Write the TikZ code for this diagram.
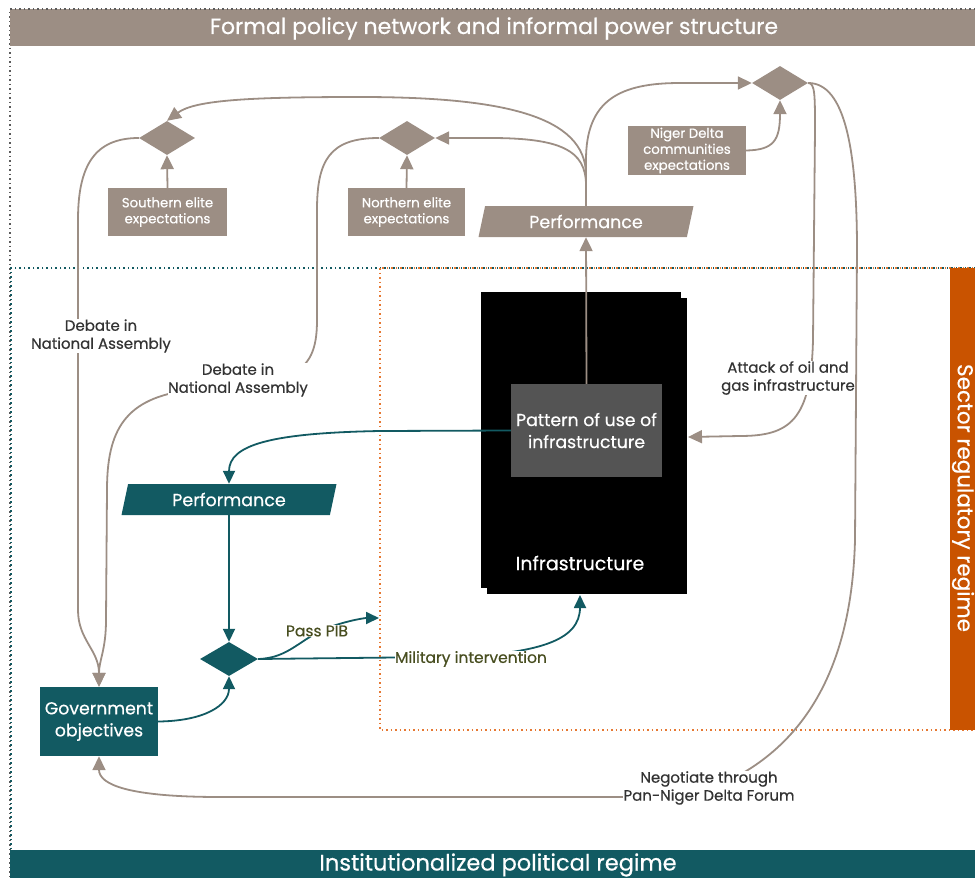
\documentclass[tikz,border=0pt]{standalone}
\usepackage{fontspec}
\setmainfont{Poppins}[FakeBold=0.5]
\usetikzlibrary{shapes.geometric,arrows.meta}
\definecolor{taupe}{RGB}{156,142,132}
\definecolor{tealc}{RGB}{18,90,98}
\definecolor{orng}{RGB}{201,83,0}
\definecolor{pattc}{RGB}{84,84,84}
\definecolor{lblc}{RGB}{51,51,51}
\definecolor{olivec}{RGB}{72,78,32}
\definecolor{dotgray}{RGB}{90,90,90}
\definecolor{dotorange}{RGB}{230,120,50}
\begin{document}
\begin{tikzpicture}[x=1pt,y=-1pt,
  gbox/.style={fill=taupe,text=white,inner sep=0pt,align=center,font=\fontsize{13.3}{16}\selectfont},
  gdia/.style={diamond,fill=taupe,inner sep=0pt,minimum width=56pt,minimum height=34pt,shape aspect=1.65},
  tdia/.style={diamond,fill=tealc,inner sep=0pt,minimum width=58pt,minimum height=34pt,shape aspect=1.7},
  para/.style={trapezium,trapezium left angle=64,trapezium right angle=116,trapezium stretches body,
    inner sep=0pt,minimum width=215pt,minimum height=31pt,text=white,font=\fontsize{17.5}{19}\selectfont},
  garr/.style={draw=taupe,line width=1.8pt,-{Triangle[length=14pt,width=13pt]}},
  tarr/.style={draw=tealc,line width=1.8pt,-{Triangle[length=13pt,width=12pt]}},
  glbl/.style={fill=white,text=lblc,align=center,inner sep=0.5pt,font=\fontsize{15}{18}\selectfont},
  tlbl/.style={fill=white,text=olivec,align=center,inner sep=0.5pt,font=\fontsize{15.5}{17}\selectfont},
  dotline/.style={line width=1.5pt,dash pattern=on 1.5pt off 3pt},
  banner/.style={text=white,anchor=base}
]
\useasboundingbox (0,0) rectangle (975,878);

% frames
\draw[dotline,draw=dotgray] (975,9) -- (10,9) -- (10,878);
\draw[dotline,draw=tealc] (975,268) -- (11,268) -- (11,878);
\draw[dotline,draw=dotorange] (380,268) rectangle (975,730);

% banners
\fill[taupe] (10,9) rectangle (975,46);
\draw[dotline,draw=dotgray] (975,9) -- (10,9);
\node[banner,font=\fontsize{22}{24}\selectfont] (topban) at (494,34) {Formal policy network and informal power structure};
\fill[tealc] (10,850) rectangle (975,878);
\node[banner,font=\fontsize{22.5}{25}\selectfont] (botban) at (498,870.5) {Institutionalized political regime};
\fill[orng] (950,268) rectangle (980,730);
\node[text=white,rotate=-90,inner sep=0pt,font=\fontsize{21.5}{24}\selectfont] (sectorlbl) at (963,498) {Sector regulatory regime};

% infrastructure
\node[fill=black,minimum width=200pt,minimum height=296pt,inner sep=0pt] (infrash) at (587,446) {};
\node[fill=black,minimum width=200pt,minimum height=296pt,inner sep=0pt] (infra) at (581,440) {};
\node[text=white,font=\fontsize{19}{21}\selectfont] (infratxt) at (580,563) {Infrastructure};
\node[fill=pattc,minimum width=151pt,minimum height=93pt,inner sep=0pt,text=white,align=center,
  font=\fontsize{17.3}{22}\selectfont] (patt) at (586.5,430.5) {Pattern of use of\\infrastructure};
\coordinate (infratip) at (580,595);
\coordinate (attacktip) at (688,437);
\coordinate (pibtip) at (379,618);

% gray nodes
\node[gdia] (sd) at (167,138) {};
\node[gdia] (nd) at (407,138) {};
\node[gdia] (ed) at (780,83) {};
\node[gbox,minimum width=119pt,minimum height=48pt] (sbox) at (167.5,212) {Southern elite\\expectations};
\node[gbox,minimum width=117pt,minimum height=48pt] (nbox) at (406.5,212) {Northern elite\\expectations};
\node[gbox,minimum width=118pt,minimum height=49pt] (dbox) at (687,150.5) {Niger Delta\\communities\\expectations};
\node[para,fill=taupe] (gperf) at (586,221.5) {Performance};

% teal nodes
\node[para,fill=tealc] (tperf) at (229,499.5) {Performance};
\node[tdia] (td) at (229,659) {};
\node[fill=tealc,minimum width=118pt,minimum height=69pt,inner sep=0pt,text=white,align=center,
  font=\fontsize{17.3}{22}\selectfont] (gov) at (99,721.5) {Government\\objectives};

% gray connectors
\draw[garr] (sbox.north) -- (sd.south);
\draw[garr] (nbox.north) -- (nd.south);
\draw[garr] (dbox.east) .. controls (774,150) and (780,140) .. (ed.south);
\draw[garr] (patt.north) -- (gperf.south);
\draw[garr] (gperf.north) -- (586,160) .. controls (586,100) and (620,83) .. (680,83) -- (ed.west);
\draw[garr] (gperf.north) -- (586,185) .. controls (586,150) and (560,138) .. (490,138) -- (nd.east);
\draw[garr] (gperf.north) -- (586,175) .. controls (586,115) and (500,97) .. (360,97) .. controls (250,97) and (195,100) .. (sd.north);
\draw[garr] (sd.west) .. controls (95,138) and (78,165) .. (78,220) -- (78,610) .. controls (78,640) and (99,650) .. (gov.north);
\draw[garr] (nd.west) .. controls (330,138) and (317,160) .. (317,210) -- (317,320) .. controls (317,350) and (310,365) .. (290,375) -- (190,390) .. controls (125,398) and (107,430) .. (107,490) -- (106,620) .. controls (106,650) and (99,660) .. (gov.north);
\draw[garr] (ed.east) .. controls (815,83) and (815,95) .. (815,130) -- (813,340) .. controls (811,420) and (790,436) .. (740,436) -- (attacktip);
\draw[garr] (ed.east) .. controls (845,83) and (857,150) .. (857,250) -- (855,540) .. controls (852,660) and (810,740) .. (730,780) -- (640,797) -- (220,797) .. controls (130,797) and (99,785) .. (gov.south);

% teal connectors
\draw[tarr] (patt.west) -- (380,431) .. controls (270,433) and (229,445) .. (tperf.north);
\draw[tarr] (tperf.south) -- (td.north);
\draw[tarr] (gov.east) .. controls (205,721) and (229,705) .. (td.south);
\draw[tarr] (td.east) .. controls (290,658) and (300,638) .. (330,627) .. controls (350,620) and (365,618) .. (pibtip);
\draw[tarr] (td.east) -- (440,657) .. controls (540,655) and (580,640) .. (infratip);

% labels
\node[glbl] (deb1) at (101,336) {Debate in\\National Assembly};
\node[glbl] (deb2) at (238,380) {Debate in\\National Assembly};
\node[glbl] (attack) at (788,378) {Attack of oil and\\gas infrastructure};
\node[glbl] (nego) at (709,788) {Negotiate through\\Pan-Niger Delta Forum};
\node[tlbl] (pib) at (317,631) {Pass PIB};
\node[tlbl] (mil) at (471,659) {Military intervention};
\end{tikzpicture}
\end{document}
